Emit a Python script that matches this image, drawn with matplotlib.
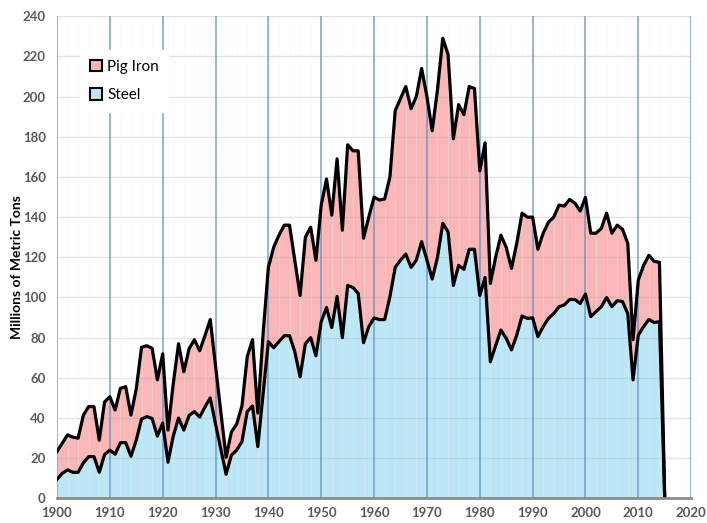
import numpy as np
import matplotlib
matplotlib.use("Agg")
import matplotlib.pyplot as plt
from matplotlib.patches import Patch

years = list(range(1900, 2016))

steel = [9.5, 12.5, 14.2, 13.0, 13.0, 17.7, 20.8, 20.8, 13.0, 21.8,
         24.0, 22.0, 27.7, 27.8, 21.0, 29.0, 39.5, 40.7, 39.8, 31.0,
         37.5, 18.0, 31.0, 40.0, 34.0, 41.3, 43.2, 40.5, 45.5, 50.0,
         37.0, 24.5, 12.0, 21.5, 24.0, 28.3, 43.2, 46.0, 25.8, 52.0,
         78.0, 75.0, 78.0, 81.0, 81.0, 73.0, 60.5, 77.0, 80.0, 71.0,
         88.0, 95.0, 85.0, 100.5, 80.0, 106.0, 105.0, 102.0, 77.5, 85.5,
         89.8, 89.0, 89.0, 100.4, 115.0, 118.6, 121.6, 115.0, 118.6, 127.8,
         118.6, 109.2, 120.0, 136.9, 132.7, 106.0, 116.0, 114.0, 124.0, 124.0,
         101.0, 110.0, 68.0, 76.0, 83.8, 79.7, 73.9, 81.3, 90.8, 89.6,
         89.9, 80.5, 85.5, 89.6, 92.0, 95.4, 96.3, 99.0, 99.0, 97.0,
         101.7, 90.5, 93.0, 95.4, 100.0, 95.4, 98.4, 98.0, 92.0, 59.0,
         81.3, 85.5, 89.1, 87.5, 88.0, 0.0]

pig_iron = [13.8, 15.0, 17.4, 17.5, 17.0, 23.8, 24.9, 24.9, 16.0, 26.2,
            26.6, 22.0, 27.1, 27.8, 20.5, 25.5, 35.7, 35.3, 34.9, 28.0,
            34.5, 16.0, 26.0, 37.0, 29.0, 33.2, 35.8, 33.0, 35.5, 39.0,
            29.0, 18.5, 8.5, 11.5, 13.0, 17.7, 27.3, 33.0, 16.7, 30.0,
            37.0, 50.0, 53.0, 55.0, 55.0, 45.5, 40.5, 53.0, 55.0, 47.5,
            58.0, 64.0, 56.0, 68.5, 53.5, 70.0, 68.0, 71.0, 52.0, 54.5,
            60.2, 59.5, 60.0, 59.6, 78.0, 80.4, 83.4, 79.0, 81.4, 86.2,
            81.4, 73.8, 83.5, 92.1, 88.3, 73.0, 80.0, 77.0, 81.0, 80.0,
            62.0, 67.0, 39.0, 44.0, 47.2, 45.3, 40.6, 45.7, 51.2, 50.4,
            50.1, 43.5, 46.5, 47.9, 48.0, 50.6, 49.2, 49.8, 48.0, 46.0,
            48.1, 41.5, 39.0, 39.0, 42.0, 36.6, 37.6, 36.0, 35.0, 20.0,
            27.4, 30.5, 31.9, 30.5, 29.5, 0.0]

series_labels = ["Pig Iron", "Steel"]
x_ticks = list(range(1900, 2021, 10))
y_ticks = list(range(0, 241, 20))
y_label = "Millions of Metric Tons"

steel_color = "#bde7f7"
pig_color = "#f9b7b7"

plt.rcParams['font.family'] = ['Lato', 'DejaVu Sans']

fig = plt.figure(figsize=(7.07, 5.23), dpi=100)
ax = fig.add_axes([0.0806, 0.047, 0.897, 0.922])

yrs = np.array(years)
s = np.array(steel)
total = s + np.array(pig_iron)

ax.fill_between(yrs, 0, s, color=steel_color, lw=0, zorder=1)
ax.fill_between(yrs, s, total, color=pig_color, lw=0, zorder=1)

# very faint minor verticals
for yr in range(1900, 2021, 2):
    if yr % 10:
        ax.axvline(yr, color="#e8eef6", lw=0.7, alpha=0.3, zorder=1.5)
for yv in y_ticks[1:]:
    ax.axhline(yv, color="#b0b0b0", lw=1.0, alpha=0.35, zorder=2)
for xv in x_ticks:
    ax.axvline(xv, color="#5b8cc4", lw=1.2, alpha=0.75, zorder=2)

ax.plot(yrs, total, color="black", lw=2.3, zorder=3)
ax.plot(yrs, s, color="black", lw=2.3, zorder=3)

ax.set_xlim(1900, 2020)
ax.set_ylim(0, 240)
ax.set_xticks(x_ticks)
ax.set_yticks(y_ticks)
ax.tick_params(length=0, labelsize=9.5, labelcolor="#595959", pad=6)
ax.tick_params(axis="y", pad=8)
for lab in ax.get_xticklabels() + ax.get_yticklabels():
    lab.set_fontweight("bold")

for sp in ["top", "right", "left"]:
    ax.spines[sp].set_visible(False)
ax.spines["bottom"].set_color("#8c8c8c")
ax.spines["bottom"].set_linewidth(2)
ax.spines["bottom"].set_zorder(4)

fig.text(0.024, 0.49, y_label, rotation=90, fontsize=10, fontweight="bold",
         color="black", ha="center", va="center")

handles = [Patch(facecolor=pig_color, edgecolor="black", lw=1.5),
           Patch(facecolor=steel_color, edgecolor="black", lw=1.5)]
leg = ax.legend(handles, series_labels, loc="upper left",
                bbox_to_anchor=(0.025, 0.945), fontsize=11,
                handlelength=0.8, handleheight=0.8, handletextpad=0.35,
                labelspacing=0.95, frameon=True, framealpha=1,
                edgecolor="white", facecolor="white", fancybox=False,
                borderpad=0.6)
leg.set_zorder(5)

fig.savefig("out.png", dpi=100)
